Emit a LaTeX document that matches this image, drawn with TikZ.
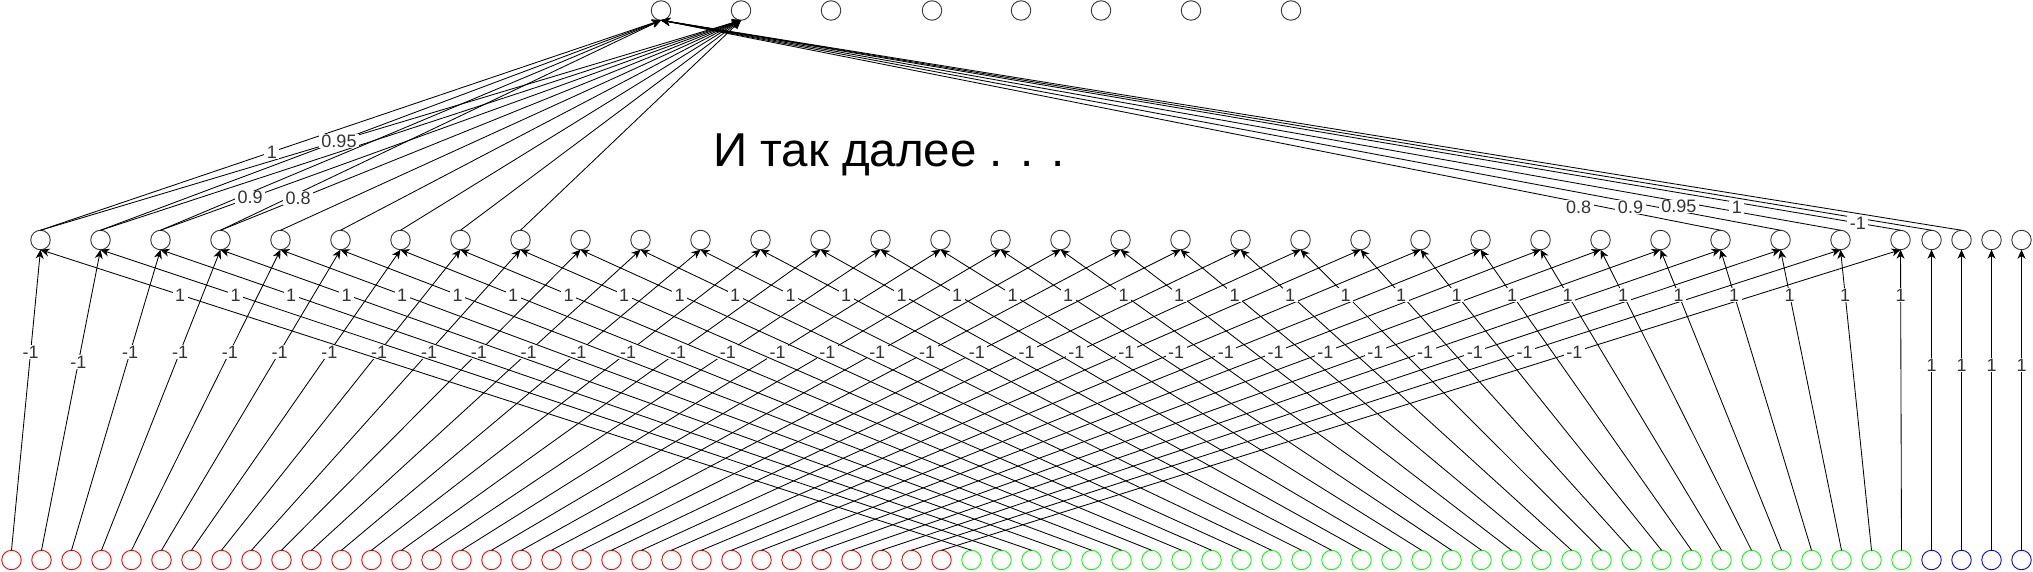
\documentclass[tikz,border=0pt]{standalone}
\usepackage{fontspec}
\setmainfont{Liberation Sans}
\usetikzlibrary{arrows.meta}
\definecolor{nred}{HTML}{FF0000}
\definecolor{ngreen}{HTML}{00FF00}
\definecolor{nblue}{HTML}{0000FF}
\definecolor{ngray}{HTML}{333333}
\begin{document}
\begin{tikzpicture}[x=1pt,y=-1pt,
  neuron/.style={circle,draw=#1,line width=0.9pt,minimum size=19.5pt,inner sep=0pt,outer sep=0pt},
  neuron/.default=ngray,
  conn/.style={draw=black,line width=0.85pt,-{Stealth[length=9pt,width=8pt,inset=2.8pt]}},
  lbl/.style={fill=white,inner xsep=2.5pt,inner ysep=0.5pt,font=\fontsize{18}{18}\selectfont,text=ngray},
]
\useasboundingbox (0,0) rectangle (2033,572);
% bottom layer
\foreach \j in {0,...,31} \node[neuron=nred] (r\j) at ({11.5+30*\j},560) {};
\foreach \j in {0,...,31} \node[neuron=ngreen] (g\j) at ({971.5+30*\j},560) {};
\foreach \k in {0,...,3} \node[neuron=nblue] (b\k) at ({1931.5+30*\k},560) {};
% middle layer
\foreach \i in {0,...,31} \node[neuron] (m\i) at ({40.5+60*\i},240) {};
\foreach \k in {0,...,3} \node[neuron] (e\k) at ({1931.5+30*\k},240) {};
% top layer
\foreach \x [count=\n] in {661,741,831,932,1021,1101,1191,1291} \node[neuron] (t\n) at (\x,10.5) {};
% bottom -> middle
\foreach \i in {0,...,31} {
  \pgfmathsetmacro\p{ifthenelse(\i==1,0.627,0.66)}
  \draw[conn] (r\i.north) -- node[lbl,pos=\p]{-1} (m\i.south);
}
\foreach \i in {0,...,31} \draw[conn] (g\i.north) -- node[lbl,pos=0.85]{1} (m\i.south);
\foreach \k in {0,...,3} \draw[conn] (b\k.north) -- node[lbl,pos=0.617]{1} (e\k.south);
% middle -> top
\foreach \i in {0,...,8} \draw[conn] (m\i.north) -- (t2.south);
\draw[conn] (m0.north) -- node[lbl,pos=0.373]{1} (t1.south);
\draw[conn] (m1.north) -- node[lbl,pos=0.4255]{0.95} (t1.south);
\draw[conn] (m2.north) -- node[lbl,pos=0.179,yshift=-5pt]{0.9} (t1.south);
\draw[conn] (m3.north) -- node[lbl,pos=0.176,yshift=-5pt]{0.8} (t1.south);
\draw[conn] (m28.north) -- node[lbl,pos=0.134,yshift=-5pt]{0.8} (t1.south);
\draw[conn] (m29.north) -- node[lbl,pos=0.134,yshift=-5pt]{0.9} (t1.south);
\draw[conn] (m30.north) -- node[lbl,pos=0.137,yshift=-5pt]{0.95} (t1.south);
\draw[conn] (m31.north) -- node[lbl,pos=0.132,yshift=-5pt]{1} (t1.south);
\draw[conn] (e0.north) -- node[lbl,pos=0.058,yshift=-5pt]{-1} (t1.south);
\draw[conn] (e1.north) -- (t1.south);
% caption
\node[anchor=base west,inner sep=0pt,font=\fontsize{47.5}{50}\selectfont] (txt) at (713,167) {И так далее . . .};
\end{tikzpicture}
\end{document}
